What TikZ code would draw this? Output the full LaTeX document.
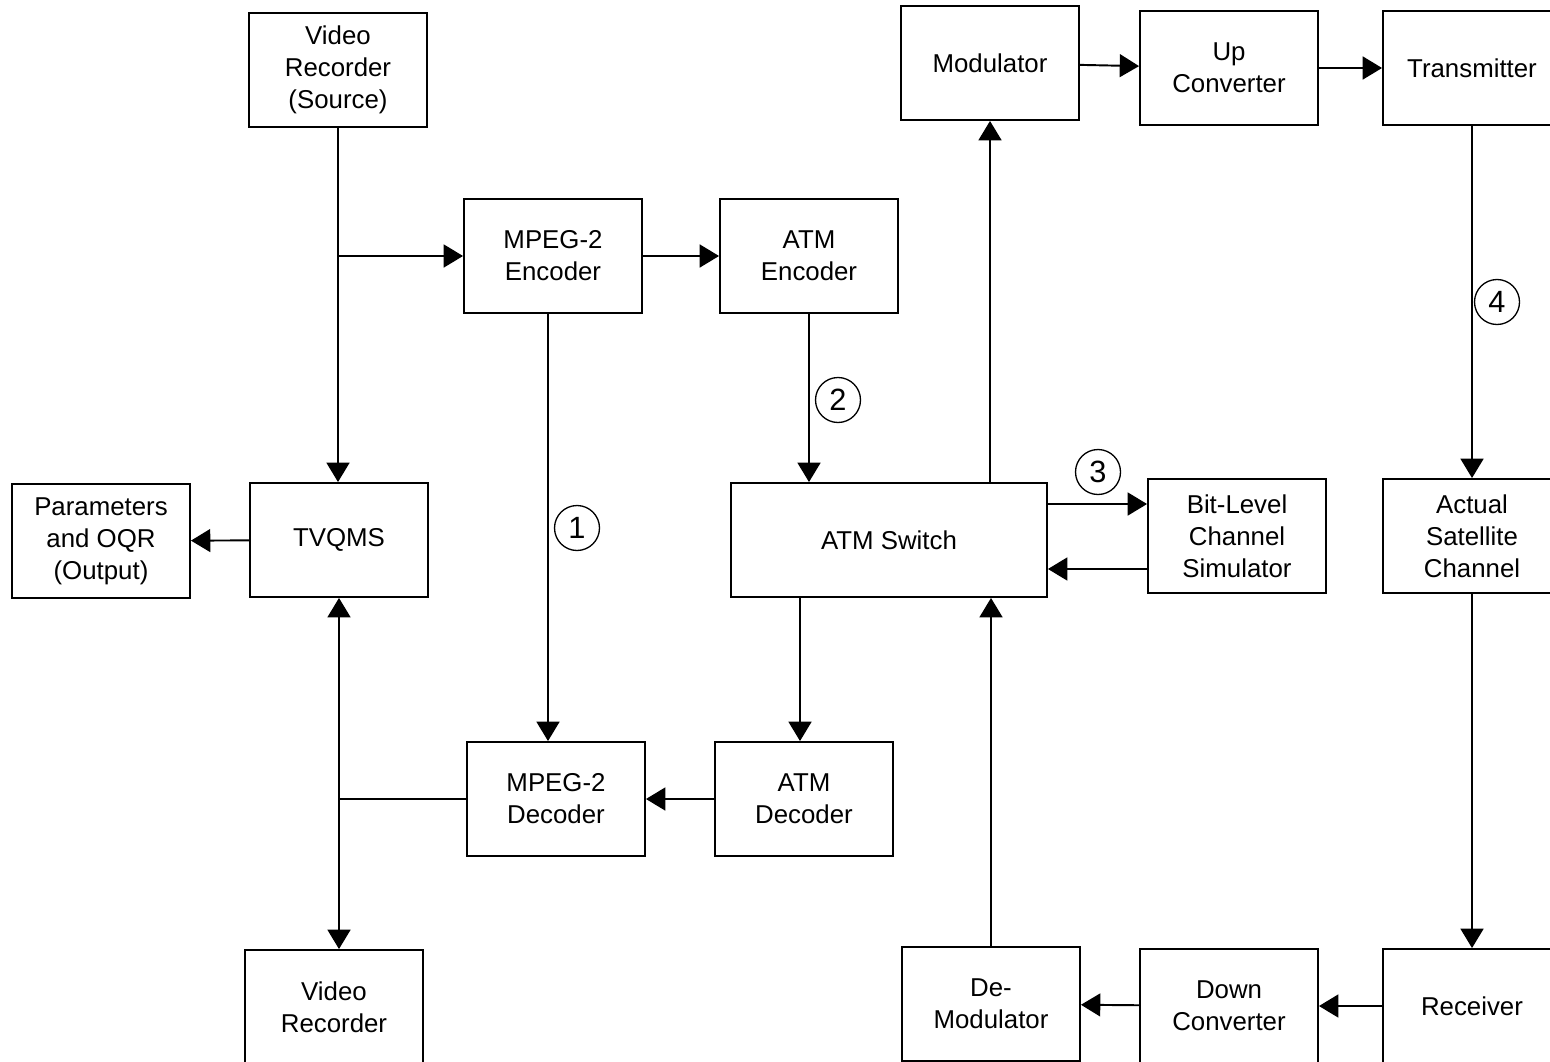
\documentclass[tikz,border=0pt]{standalone}
\usepackage{fontspec}
\setmainfont{Liberation Sans}
\usetikzlibrary{arrows.meta}

\begin{document}
\begin{tikzpicture}[
        x=0.02cm, y=-0.02cm,
        block/.style={rectangle, draw, line width=1.1pt, minimum width=3.56cm, minimum height=2.28cm, align=center, font=\fontsize{14.7}{18.2}\selectfont},
        marker/.style={circle, draw, line width=0.75pt, minimum size=0.9cm, inner sep=0pt, font=\fontsize{17.5}{18.2}\selectfont},
        arrow/.style={-{Triangle[length=11pt, width=13pt]}, line width=1.1pt},
        link/.style={line width=1.1pt}
    ]
        \useasboundingbox (0,0) rectangle (1550,1061);

        % Source side
        \node[block] (vrs) at (338,70) {Video\\Recorder\\(Source)};
        \node[block] (mpegenc) at (553,256) {MPEG-2\\Encoder};
        \node[block] (atmenc) at (809,256) {ATM\\Encoder};

        % Quality measurement
        \node[block] (tvqms) at (339,540) {TVQMS};
        \node[block] (params) at (101,541) {Parameters\\and OQR\\(Output)};

        % Switch and simulator
        \node[block, minimum width=6.32cm] (atmsw) at (889,540) {ATM Switch};
        \node[block] (bitlevel) at (1237,536) {Bit-Level\\Channel\\Simulator};

        % Decoding
        \node[block] (mpegdec) at (556,799) {MPEG-2\\Decoder};
        \node[block] (atmdec) at (804,799) {ATM\\Decoder};
        \node[block] (vr) at (334,1007) {Video\\Recorder};

        % Satellite uplink
        \node[block] (modul) at (990,63) {Modulator};
        \node[block] (upconv) at (1229,68) {Up\\Converter};
        \node[block] (transm) at (1472,68) {Transmitter};
        \node[block] (actual) at (1472,536) {Actual\\Satellite\\Channel};

        % Satellite downlink
        \node[block] (receiver) at (1472,1006) {Receiver};
        \node[block] (downconv) at (1229,1006) {Down\\Converter};
        \node[block] (demod) at (991,1004) {De-\\Modulator};

        % Test points
        \node[marker] (n1) at (577,528) {1};
        \node[marker] (n2) at (838,400) {2};
        \node[marker] (n3) at (1098,472) {3};
        \node[marker] (n4) at (1497,302) {4};

        \draw[arrow] (vrs.south) -- (vrs.south |- tvqms.north);
        \draw[arrow] (vrs.south |- mpegenc.west) -- (mpegenc.west);
        \draw[arrow] (mpegenc.east) -- (atmenc.west);
        \draw[arrow] ([xshift=-0.1cm]mpegenc.south) -- ([xshift=-0.1cm]mpegenc.south |- mpegdec.north);
        \draw[arrow] (atmenc.south) -- (atmenc.south |- atmsw.north);
        \draw[arrow] (modul.south |- atmsw.north) -- (modul.south);
        \draw[arrow] (modul) -- (upconv);
        \draw[arrow] (upconv) -- (transm);
        \draw[arrow] (transm.south) -- (actual.north);
        \draw[arrow] ([yshift=0.72cm]atmsw.east) -- ([yshift=0.72cm]atmsw.east -| bitlevel.west);
        \draw[arrow] ([yshift=-0.66cm]bitlevel.west) -- ([yshift=-0.66cm]bitlevel.west -| atmsw.east);
        \draw[arrow] ([xshift=-0.08cm]atmdec.north |- atmsw.south) -- ([xshift=-0.08cm]atmdec.north);
        \draw[arrow] (atmdec) -- (mpegdec);
        \draw[link] (mpegdec.west) -- (mpegdec.west -| tvqms.south);
        \draw[arrow, {Triangle[length=11pt, width=13pt]}-{Triangle[length=11pt, width=13pt]}] (tvqms.south) -- (tvqms.south |- vr.north);
        \draw[arrow] (tvqms) -- (params);
        \draw[arrow] (actual.south) -- (receiver.north);
        \draw[arrow] (receiver) -- (downconv);
        \draw[arrow] (downconv) -- (demod);
        \draw[arrow] (demod.north) -- (demod.north |- atmsw.south);
    \end{tikzpicture}
\end{document}
